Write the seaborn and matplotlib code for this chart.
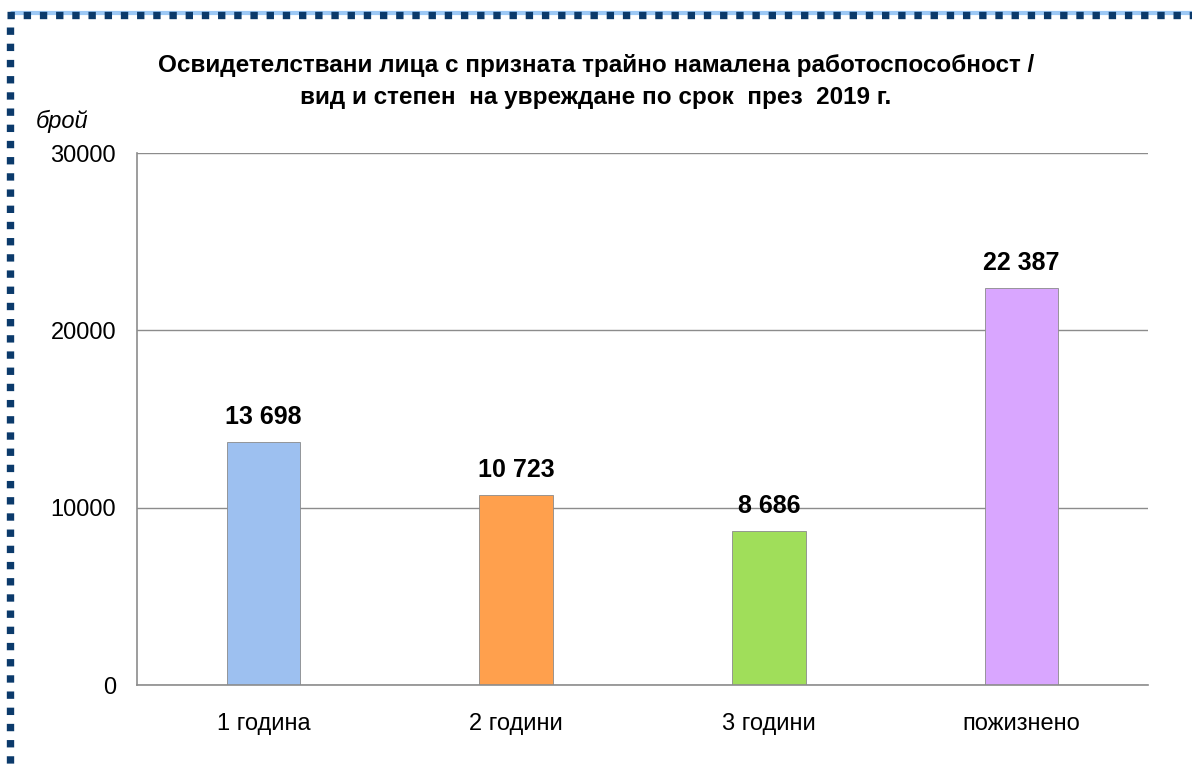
import matplotlib
matplotlib.use("Agg")
import matplotlib.pyplot as plt
import seaborn as sns
import pandas as pd
from matplotlib.lines import Line2D

# data
categories = ["1 година", "2 години", "3 години", "пожизнено"]
values = [13698, 10723, 8686, 22387]
bar_colors = ["#9DC0F0", "#FFA04D", "#A0DE5A", "#D9A6FF"]
title = ("Освидетелствани лица с призната трайно намалена работоспособност /\n"
         "вид и степен  на увреждане по срок  през  2019 г.")

sns.set_style("white")
plt.rcParams['font.family'] = ['Liberation Sans', 'DejaVu Sans']
plt.rcParams['text.color'] = 'black'
plt.rcParams['xtick.color'] = 'black'
plt.rcParams['ytick.color'] = 'black'

df = pd.DataFrame({"cat": categories, "val": values})

fig = plt.figure(figsize=(11.92, 7.69), dpi=100)
ax = fig.add_axes([0.1149, 0.1092, 0.9631 - 0.1149, 0.801 - 0.1092])

sns.barplot(data=df, x="cat", y="val", hue="cat", palette=bar_colors,
            width=0.29, legend=False, ax=ax, saturation=1,
            edgecolor="#8a8a8a", linewidth=0.6)

ax.set_ylim(0, 30000)
ax.set_xlim(-0.5, 3.5)
ax.set_yticks([0, 10000, 20000, 30000])
ax.yaxis.grid(True, color="#8c8c8c", linewidth=1)
ax.set_axisbelow(True)

for s in ["top", "right"]:
    ax.spines[s].set_visible(False)
for s in ["left", "bottom"]:
    ax.spines[s].set_color("#8c8c8c")
    ax.spines[s].set_linewidth(1.2)

ax.tick_params(axis="y", length=10, color="#8c8c8c", labelcolor="black",
               labelsize=17, pad=5)
ax.tick_params(axis="x", which="major", length=0, labelsize=17, pad=20,
               labelcolor="black")
ax.set_xticks([-0.5, 0.5, 1.5, 2.5, 3.5], minor=True)
ax.tick_params(axis="x", which="minor", length=10, color="#8c8c8c")
ax.set_xlabel("")
ax.set_ylabel("")

for i, v in enumerate(values):
    ax.text(i, v + 750, f"{v:,}".replace(",", " "), ha="center", va="bottom",
            fontsize=18, fontweight="bold")

fig.text(0.5, 0.894, title, ha="center", va="center", fontsize=17.5,
         fontweight="bold", linespacing=1.55)
fig.text(0.03, 0.842, "брой", fontsize=17, style="italic", ha="left", va="center")

# dotted frame
fig.add_artist(Line2D([12 / 1192, 1], [1 - 13 / 769] * 2, color="#9cc8f5",
                      linewidth=3, transform=fig.transFigure))
fig.add_artist(Line2D([7 / 1192, 1], [1 - 15 / 769] * 2, color="#0b3a6b",
                      linewidth=5.3, linestyle=(0, (1.0, 1.2)), transform=fig.transFigure))
fig.add_artist(Line2D([10 / 1192] * 2, [1 - 27 / 769, 0], color="#0b3a6b",
                      linewidth=5.3, linestyle=(0, (1.0, 1.2)), transform=fig.transFigure))

fig.savefig("out.png", dpi=100)
